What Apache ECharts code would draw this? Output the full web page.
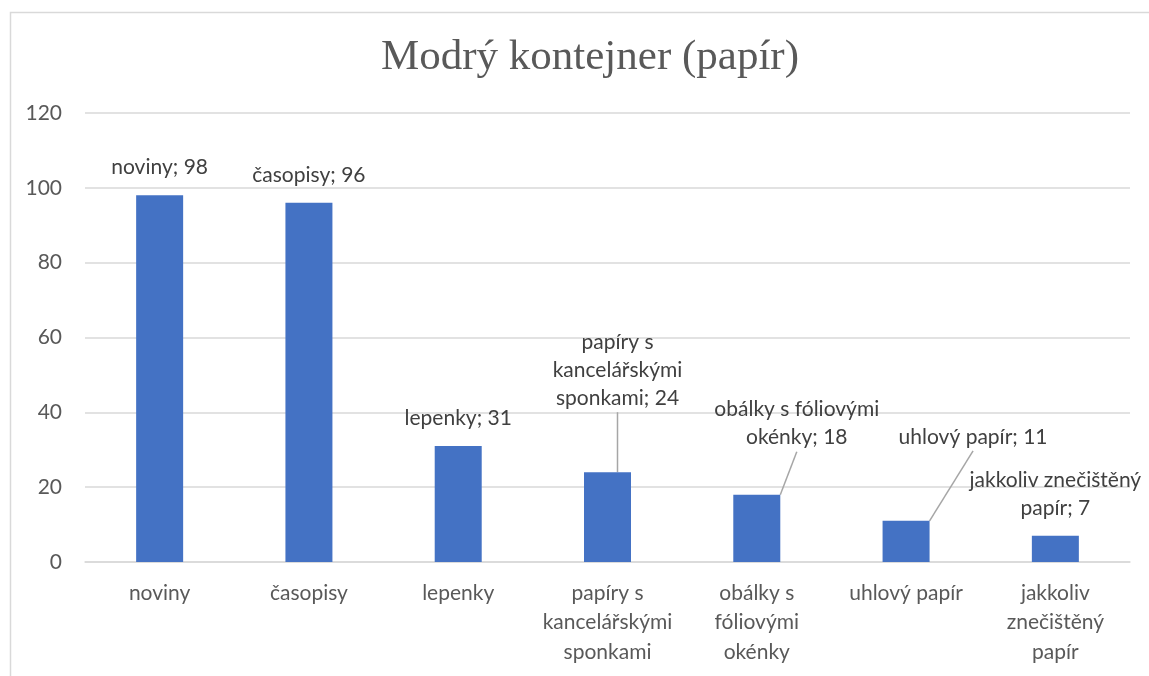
<!DOCTYPE html>
<html>
<head>
<meta charset="utf-8">
<script src="https://cdn.jsdelivr.net/npm/echarts@6/dist/echarts.min.js"></script>
<style>
html,body{margin:0;padding:0;background:#fff;}
#chart{width:1149px;height:676px;}
</style>
</head>
<body>
<div id="chart"></div>
<script>
// ---- data ----
const titleText = 'Modrý kontejner (papír)';
const categories = ['noviny', 'časopisy', 'lepenky', 'papíry s kancelářskými sponkami', 'obálky s fóliovými okénky', 'uhlový papír', 'jakkoliv znečištěný papír'];
const axisLabelTexts = ['noviny', 'časopisy', 'lepenky', 'papíry s\nkancelářskými\nsponkami', 'obálky s\nfóliovými\nokénky', 'uhlový papír', 'jakkoliv\nznečištěný\npapír'];
const dataLabelNames = ['noviny', 'časopisy', 'lepenky', 'papíry s\nkancelářskými\nsponkami', 'obálky s fóliovými\nokénky', 'uhlový papír', 'jakkoliv znečištěný\npapír'];
const values = [98, 96, 31, 24, 18, 11, 7];
const yTicks = [0, 20, 40, 60, 80, 100, 120];

// ---- label placement (style) ----
const labelShift = [[0,0],[0,0],[0,0],[10,-46],[40,-29],[67,-56],[0,0]];
const hasLeader = [false, false, false, true, true, true, false];

const chart = echarts.init(document.getElementById('chart'), null, {renderer:'canvas'});
const FONT = 'Lato';
chart.setOption({
  animation: false,
  backgroundColor: '#ffffff',
  graphic: [{
    type: 'rect', left: 8, top: 10, silent: true,
    shape: {width: 1150, height: 680},
    style: {fill: 'none', stroke: '#d9d9d9', lineWidth: 1.5}
  }],
  title: {
    text: titleText, left: 585, top: 31, textAlign: 'center',
    textStyle: {fontFamily: 'Liberation Serif', fontSize: 43, fontWeight: 'normal', color: '#595959'}
  },
  grid: {left: 85, right: 19, top: 113, bottom: 114},
  xAxis: {
    type: 'category', data: categories,
    axisLine: {lineStyle: {color: '#d9d9d9', width: 1.5}},
    axisTick: {show: false},
    axisLabel: {
      interval: 0, margin: 16, color: '#595959', fontFamily: FONT, fontSize: 21, lineHeight: 29.5,
      formatter: (v, i) => axisLabelTexts[i]
    }
  },
  yAxis: {
    type: 'value', min: yTicks[0], max: yTicks[yTicks.length-1], interval: yTicks[1]-yTicks[0],
    axisLine: {show: false}, axisTick: {show: false},
    axisLabel: {margin: 23, color: '#595959', fontFamily: FONT, fontSize: 21},
    splitLine: {lineStyle: {color: '#d9d9d9', width: 1.5}}
  },
  series: [{
    type: 'bar', barWidth: 47,
    data: values.map((v, i) => ({value: v, labelLine: {show: hasLeader[i]}})),
    itemStyle: {color: '#4472c4'},
    label: {
      show: true, position: 'top', distance: 14,
      color: '#404040', fontFamily: FONT, fontSize: 21, lineHeight: 28,
      formatter: p => dataLabelNames[p.dataIndex] + '; ' + p.value
    },
    labelLine: {show: false, lineStyle: {color: '#a6a6a6', width: 1.5}},
    labelLayout: p => ({dx: labelShift[p.dataIndex][0], dy: labelShift[p.dataIndex][1]})
  }]
});
</script>
</body>
</html>
